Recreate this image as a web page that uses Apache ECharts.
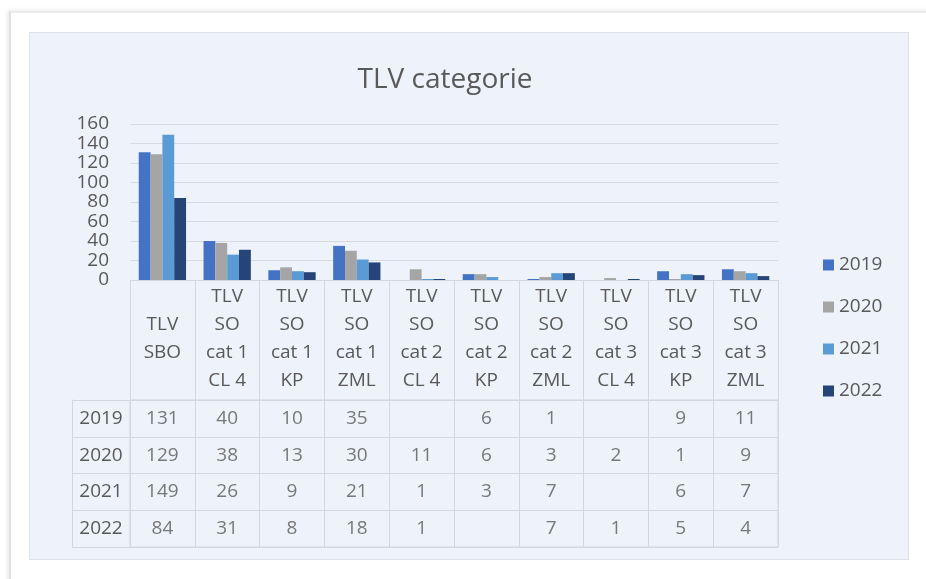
<!DOCTYPE html>
<html>
<head>
<meta charset="utf-8">
<script src="https://cdn.jsdelivr.net/npm/echarts@6/dist/echarts.min.js"></script>
<style>
  html, body { margin: 0; padding: 0; background: #ffffff; width: 926px; height: 579px; overflow: hidden; }
  #card { position: absolute; left: 9px; top: 11px; width: 940px; height: 600px;
          border-left: 2px solid #dedede; border-top: 2px solid #ececec;
          box-shadow: -2px -1px 4px rgba(0,0,0,0.08); background: #ffffff; }
  #panel { position: absolute; left: 29px; top: 32px; width: 878px; height: 526px;
           background: #eef2fa; border: 1px solid #dde1e8; }
  #chart { position: absolute; left: 0; top: 0; width: 926px; height: 579px; }
</style>
</head>
<body>
<div id="card"></div>
<div id="panel"></div>
<div id="chart"></div>
<script>
const categories = [
  'TLV\nSBO',
  'TLV\nSO\ncat 1\nCL 4',
  'TLV\nSO\ncat 1\nKP',
  'TLV\nSO\ncat 1\nZML',
  'TLV\nSO\ncat 2\nCL 4',
  'TLV\nSO\ncat 2\nKP',
  'TLV\nSO\ncat 2\nZML',
  'TLV\nSO\ncat 3\nCL 4',
  'TLV\nSO\ncat 3\nKP',
  'TLV\nSO\ncat 3\nZML'
];
const years = ['2019', '2020', '2021', '2022'];
const v2019 = [131, 40, 10, 35, null, 6, 1, null, 9, 11];
const v2020 = [129, 38, 13, 30, 11, 6, 3, 2, 1, 9];
const v2021 = [149, 26, 9, 21, 1, 3, 7, null, 6, 7];
const v2022 = [84, 31, 8, 18, 1, null, 7, 1, 5, 4];
const colors = ['#4472c4', '#a5a5a5', '#5b9bd5', '#264478'];
const yTicks = { min: 0, max: 160, interval: 20 };

const allSeries = [v2019, v2020, v2021, v2022];
const tableCells = [];
allSeries.forEach((arr, r) => {
  arr.forEach((v, c) => { if (v !== null) tableCells.push([c, r, v]); });
});

const txt = '#595959';
const line = '#d3d7de';
const font = 'Open Sans';

const chart = echarts.init(document.getElementById('chart'));
chart.setOption({
  backgroundColor: 'transparent',
  animation: false,
  textStyle: { fontFamily: font },
  title: {
    text: 'TLV categorie',
    left: 440, top: 61, textAlign: 'center',
    textStyle: { fontFamily: font, fontSize: 28, fontWeight: 'normal', color: txt }
  },
  legend: {
    orient: 'vertical', left: 818, top: 250,
    icon: 'rect', itemWidth: 11, itemHeight: 11, itemGap: 22, itemTextGap: 7,
    textStyle: { fontFamily: font, fontSize: 19, color: txt, lineHeight: 20 },
    data: years
  },
  grid: [
    { left: 130, right: 148, top: 124, height: 156, containLabel: false },
    { left: 130, right: 148, top: 400, bottom: 32, show: true, borderColor: line, borderWidth: 1, backgroundColor: 'transparent' }
  ],
  xAxis: [
    {
      type: 'category', gridIndex: 0, data: categories,
      axisLine: { show: true, lineStyle: { color: line } },
      axisTick: { show: true, interval: 0, length: 120, lineStyle: { color: line } },
      axisLabel: { interval: 0, margin: 59, verticalAlign: 'middle', lineHeight: 28,
                   fontFamily: font, fontSize: 19, color: txt, align: 'center' }
    },
    {
      type: 'category', gridIndex: 1, data: categories,
      axisLine: { show: false }, axisTick: { show: false }, axisLabel: { show: false },
      splitLine: { show: true, interval: 0, lineStyle: { color: line } }
    }
  ],
  yAxis: [
    {
      type: 'value', gridIndex: 0, min: yTicks.min, max: yTicks.max, interval: yTicks.interval,
      axisLine: { show: false }, axisTick: { show: false },
      axisLabel: { margin: 21, fontFamily: font, fontSize: 19, color: txt },
      splitLine: { lineStyle: { color: '#d5d9e0' } }
    },
    {
      type: 'category', gridIndex: 1, data: years, inverse: true,
      axisLine: { show: true, lineStyle: { color: line } },
      axisTick: { show: true, interval: 0, length: 58, lineStyle: { color: line } },
      axisLabel: { margin: 29, align: 'center', fontFamily: font, fontSize: 19, color: txt },
      splitLine: { show: true, interval: 0, lineStyle: { color: line } }
    },
    {
      type: 'category', gridIndex: 1, data: years, inverse: true, offset: 58, position: 'left',
      axisLine: { show: true, lineStyle: { color: line } },
      axisTick: { show: false }, axisLabel: { show: false }, splitLine: { show: false }
    }
  ],
  series: [
    ...years.map((y, i) => ({
      name: y, type: 'bar', xAxisIndex: 0, yAxisIndex: 0,
      data: allSeries[i], barGap: '0%', barCategoryGap: '27%',
      itemStyle: { color: colors[i] }
    })),
    {
      type: 'scatter', xAxisIndex: 1, yAxisIndex: 1, data: tableCells,
      symbol: 'circle', symbolSize: 1, itemStyle: { color: 'rgba(0,0,0,0)' }, silent: true,
      label: { show: true, position: 'inside', formatter: p => String(p.value[2]),
               fontFamily: font, fontSize: 19, color: txt }
    }
  ]
});
</script>
</body>
</html>
